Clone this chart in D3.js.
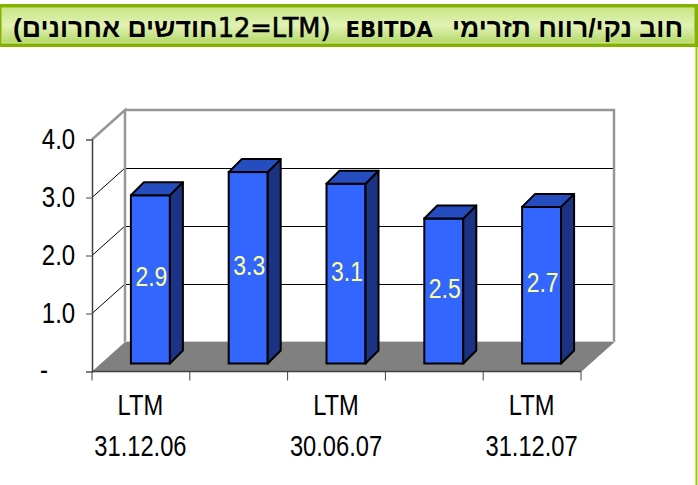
<!DOCTYPE html>
<html>
<head>
<meta charset="utf-8">
<script src="https://cdn.jsdelivr.net/npm/d3@7"></script>
<style>
    html, body { margin: 0; padding: 0; background: #fff; }
    svg { display: block; }
    text { font-family: "Liberation Sans", Arial, sans-serif; }
</style>
</head>
<body>
<div id="chart"></div>
<script>
// chart values
var periods = ["31.12.06", "", "30.06.07", "", "31.12.07"];
var periodHeader = "LTM";
var ratios = [2.9, 3.3, 3.1, 2.5, 2.7];
var yTicks = [0, 1, 2, 3, 4];

// title pieces, the RLM keeps the 12 on the left of LTM
var titleParts = [
    {text: "חוב נקי/רווח תזרימי", font: "Liberation Sans", size: 26.6, weight: "bold", edge: 0},
    {text: "\u00A0\u00A0\u2009EBITDA\u00A0\u00A0", font: "DejaVu Sans", size: 21.3, weight: "bold", edge: 0},
    {text: "(LTM\u200F=12", font: "DejaVu Sans", size: 25.7, weight: "normal", edge: 0.6},
    {text: "חודשים אחרונים)", font: "Liberation Sans", size: 26.6, weight: "bold", edge: 0}
];

var width = 698, height = 485;

var svg = d3.select("#chart").append("svg")
    .attr("width", width)
    .attr("height", height);

// title banner
var defs = svg.append("defs");
var grad = defs.append("linearGradient")
    .attr("id", "banner")
    .attr("x1", 0).attr("y1", 0).attr("x2", 0).attr("y2", 1);
grad.append("stop").attr("offset", "0%").attr("stop-color", "#c8e686");
grad.append("stop").attr("offset", "50%").attr("stop-color", "#e2f2b4");
grad.append("stop").attr("offset", "100%").attr("stop-color", "#b4d86a");

svg.append("rect")
    .attr("x", 0).attr("y", 4)
    .attr("width", 698).attr("height", 43)
    .attr("fill", "#83b300");
svg.append("rect")
    .attr("x", 2).attr("y", 8)
    .attr("width", 692).attr("height", 35)
    .attr("fill", "url(#banner)")
    .attr("stroke", "#d4ea96")
    .attr("stroke-width", 1);

var title = svg.append("text")
    .attr("x", 683).attr("y", 37)
    .attr("direction", "rtl")
    .attr("text-anchor", "start")
    .attr("fill", "#000");

title.selectAll("tspan")
    .data(titleParts)
    .enter().append("tspan")
    .style("font-family", function(d) { return "'" + d.font + "'"; })
    .style("font-size", function(d) { return d.size + "px"; })
    .style("font-weight", function(d) { return d.weight; })
    .attr("stroke", function(d) { return d.edge ? "#000" : "none"; })
    .attr("stroke-width", function(d) { return d.edge; })
    .text(function(d) { return d.text; });

// right page border
svg.append("line")
    .attr("x1", 696.5).attr("x2", 696.5)
    .attr("y1", 47).attr("y2", height)
    .attr("stroke", "#99cc00")
    .attr("stroke-width", 2);

// scales, front plane of the 3d box
var x = d3.scaleBand().domain(d3.range(ratios.length)).range([92, 581]);
var y = d3.scaleLinear().domain([0, 4]).range([371.5, 139.5]);

var depthX = 33, depthY = -29.5;   // wall offset
var barOffX = 9.5, barOffY = -8;   // bars sit inside the box
var barSideX = 13, barSideY = -13;
var barW = 39;

// floor
svg.append("polygon")
    .attr("points", [
        [x.range()[0], y(0)],
        [x.range()[1], y(0)],
        [x.range()[1] + depthX, y(0) + depthY],
        [x.range()[0] + depthX, y(0) + depthY]
    ].join(" "))
    .attr("fill", "#808080");

// gridlines, back wall + side wall
var grid = svg.append("g");
yTicks.slice(1, 4).forEach(function(t) {
    grid.append("line")
        .attr("x1", x.range()[0] + depthX).attr("x2", x.range()[1] + depthX)
        .attr("y1", y(t) + depthY).attr("y2", y(t) + depthY)
        .attr("stroke", "#000").attr("stroke-width", 1)
        .attr("shape-rendering", "crispEdges");
    grid.append("line")
        .attr("x1", x.range()[0]).attr("x2", x.range()[0] + depthX)
        .attr("y1", y(t)).attr("y2", y(t) + depthY)
        .attr("stroke", "#000").attr("stroke-width", 1);
});

// box outline
svg.append("path")
    .attr("d", "M" + x.range()[0] + "," + y(4) +
        "L" + (x.range()[0] + depthX) + "," + (y(4) + depthY) +
        "V" + (y(0) + depthY) +
        "M" + (x.range()[0] + depthX) + "," + (y(4) + depthY) +
        "H" + (x.range()[1] + depthX) +
        "V" + (y(0) + depthY))
    .attr("fill", "none")
    .attr("stroke", "#969696")
    .attr("stroke-width", 2.5);

svg.append("line")
    .attr("x1", x.range()[0] + depthX).attr("x2", x.range()[1] + depthX)
    .attr("y1", y(0) + depthY - 0.5).attr("y2", y(0) + depthY - 0.5)
    .attr("stroke", "#d0d0d0").attr("stroke-width", 1);

// bars
var bars = svg.selectAll(".bar")
    .data(ratios)
    .enter().append("g")
    .attr("class", "bar");

bars.append("rect")
    .attr("x", function(d, i) { return x(i) + (x.bandwidth() - barW) / 2 + barOffX; })
    .attr("y", function(d) { return y(d) + barOffY; })
    .attr("width", barW)
    .attr("height", function(d) { return y(0) - y(d); })
    .attr("fill", "#3366ff")
    .attr("stroke", "#000")
    .attr("stroke-width", 2);

bars.append("polygon")
    .attr("points", function(d, i) {
        var x1 = x(i) + (x.bandwidth() - barW) / 2 + barOffX + barW;
        var t = y(d) + barOffY, b = y(0) + barOffY;
        return [[x1, t], [x1 + barSideX, t + barSideY], [x1 + barSideX, b + barSideY], [x1, b]].join(" ");
    })
    .attr("fill", "#1c3384")
    .attr("stroke", "#000")
    .attr("stroke-width", 2)
    .attr("stroke-linejoin", "round");

bars.append("polygon")
    .attr("points", function(d, i) {
        var x0 = x(i) + (x.bandwidth() - barW) / 2 + barOffX;
        var t = y(d) + barOffY;
        return [[x0, t], [x0 + barSideX, t + barSideY], [x0 + barW + barSideX, t + barSideY], [x0 + barW, t]].join(" ");
    })
    .attr("fill", "#264dbf")
    .attr("stroke", "#000")
    .attr("stroke-width", 2)
    .attr("stroke-linejoin", "round");

// value labels, middle of the bar
bars.append("text")
    .attr("transform", function(d, i) {
        var cx = x(i) + x.bandwidth() / 2 + barOffX + 1;
        var cy = (y(d) + y(0)) / 2 + barOffY + 7;
        return "translate(" + cx + "," + cy + ") scale(0.82,1)";
    })
    .attr("text-anchor", "middle")
    .attr("font-size", 28)
    .attr("fill", "#ffff99")
    .text(function(d) { return d3.format(".1f")(d); });

// y axis
var yAxis = d3.axisLeft(y)
    .tickValues(yTicks)
    .tickSize(6)
    .tickFormat(function(d) { return d === 0 ? "-" : d3.format(".1f")(d); });

var yg = svg.append("g")
    .attr("transform", "translate(" + x.range()[0] + ",0)")
    .call(yAxis);
yg.select(".domain").attr("stroke", "#404040").attr("stroke-width", 1.5);
yg.selectAll(".tick line").attr("stroke", "#808080").attr("stroke-width", 1.5);
yg.selectAll(".tick text")
    .attr("font-family", null)
    .attr("font-size", 30)
    .attr("fill", "#000")
    .attr("text-anchor", "middle")
    .attr("x", null)
    .attr("dy", null)
    .attr("transform", function(d) {
        return "translate(" + (d === 0 ? -48 : -33.5) + "," + (d === 0 ? 8 : 9) + ") scale(0.8,1)";
    });

// x axis
var xTicks = d3.range(ratios.length + 1).map(function(i) {
    return x.range()[0] + i * x.bandwidth();
});
var xg = svg.append("g");
xg.append("line")
    .attr("x1", x.range()[0]).attr("x2", x.range()[1])
    .attr("y1", y(0)).attr("y2", y(0))
    .attr("stroke", "#404040").attr("stroke-width", 1.5);
xg.selectAll(".xtick")
    .data(xTicks)
    .enter().append("line")
    .attr("x1", function(d) { return d; })
    .attr("x2", function(d) { return d; })
    .attr("y1", y(0))
    .attr("y2", y(0) + 9)
    .attr("stroke", "#404040")
    .attr("stroke-width", 1);

// right depth edge of the floor
svg.append("line")
    .attr("x1", x.range()[1]).attr("x2", x.range()[1] + depthX)
    .attr("y1", y(0)).attr("y2", y(0) + depthY)
    .attr("stroke", "#808080");

var cats = svg.selectAll(".cat")
    .data(periods)
    .enter().append("g")
    .attr("class", "cat")
    .filter(function(d) { return d !== ""; });

cats.append("text")
    .attr("transform", function(d) {
        return "translate(" + (x(periods.indexOf(d)) + x.bandwidth() / 2 - 0.5) + ",415) scale(0.79,1)";
    })
    .attr("text-anchor", "middle")
    .attr("font-size", 30)
    .text(periodHeader);

cats.append("text")
    .attr("transform", function(d) {
        return "translate(" + (x(periods.indexOf(d)) + x.bandwidth() / 2 - 0.5) + ",456) scale(0.79,1)";
    })
    .attr("text-anchor", "middle")
    .attr("font-size", 30)
    .text(function(d) { return d; });
</script>
</body>
</html>
